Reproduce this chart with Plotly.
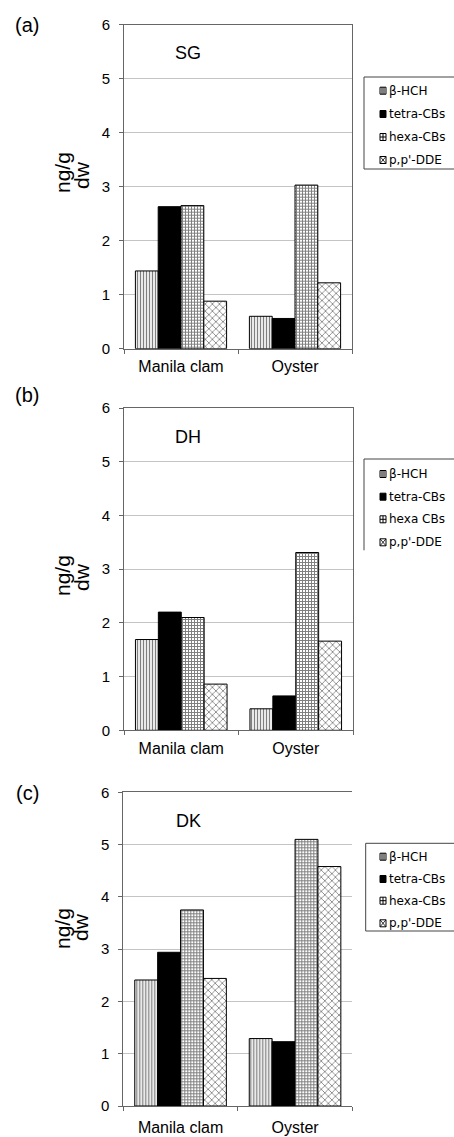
import plotly.graph_objects as go

W, H = 454, 1137

categories = ["Manila clam", "Oyster"]
compounds = ["β-HCH", "tetra-CBs", "hexa-CBs", "p,p'-DDE"]
legend_labels_b = ["β-HCH", "tetra-CBs", "hexa CBs", "p,p'-DDE"]

# ng/g dw values per site: [Manila clam, Oyster]
sg_beta_hch = [1.44, 0.60]
sg_tetra_cbs = [2.63, 0.56]
sg_hexa_cbs = [2.65, 3.03]
sg_ppdde = [0.88, 1.22]

dh_beta_hch = [1.69, 0.40]
dh_tetra_cbs = [2.20, 0.64]
dh_hexa_cbs = [2.10, 3.31]
dh_ppdde = [0.86, 1.66]

dk_beta_hch = [2.41, 1.29]
dk_tetra_cbs = [2.94, 1.23]
dk_hexa_cbs = [3.75, 5.10]
dk_ppdde = [2.44, 4.58]

panels = [
    dict(tag="(a)", site="SG", series=[sg_beta_hch, sg_tetra_cbs, sg_hexa_cbs, sg_ppdde], labels=compounds),
    dict(tag="(b)", site="DH", series=[dh_beta_hch, dh_tetra_cbs, dh_hexa_cbs, dh_ppdde], labels=legend_labels_b),
    dict(tag="(c)", site="DK", series=[dk_beta_hch, dk_tetra_cbs, dk_hexa_cbs, dk_ppdde], labels=compounds),
]

# layout geometry in pixels
plot_boxes = [  # left, right, top, bottom
    (124, 352, 24.7, 348.7),
    (124, 353, 408, 730.3),
    (123.3, 352.3, 792.3, 1106),
]
xlabel_standoff = [3, 3, 7]
tag_y = [25, 395, 793]
site_y = [53, 437, 821]
title_y = [(173, 175), (576, 577), (929, 927)]
legend_geo = [  # box left, top, bottom (None = open), entry ys
    (364, 77, 169, [90.7, 114, 137, 160]),
    (364, 459, None, [474, 496.7, 519.3, 542.3]),
    (365.7, 843.3, 931, [856.7, 879, 900.7, 923.3]),
]
right_border = [True, True, False]


def fx(x):
    return x / W


def fy(y):
    return 1 - y / H


styles = [
    dict(color="white", pattern=dict(shape="|", fgcolor="black", bgcolor="white", size=3, solidity=0.45)),
    dict(color="black"),
    dict(color="white", pattern=dict(shape="+", fgcolor="black", bgcolor="white", size=3, solidity=0.55)),
    dict(color="white", pattern=dict(shape="x", fgcolor="black", bgcolor="white", size=5, solidity=0.3)),
]

fig = go.Figure()
shapes = []
annotations = []


def note(text, x, y, size, family="Arial, Liberation Sans", angle=0, xanchor="center"):
    annotations.append(dict(text=text, x=fx(x), y=fy(y), xref="paper", yref="paper",
                            xanchor=xanchor, yanchor="middle", textangle=angle,
                            showarrow=False, font=dict(family=family, size=size, color="black")))


def pline(x0, y0, x1, y1, color="black", width=1):
    shapes.append(dict(type="line", xref="paper", yref="paper", x0=fx(x0), x1=fx(x1),
                       y0=fy(y0), y1=fy(y1), line=dict(color=color, width=width)))


for i, p in enumerate(panels):
    n = "" if i == 0 else str(i + 1)
    xa, ya = "x" + n, "y" + n
    for s, (vals, st) in enumerate(zip(p["series"], styles)):
        fig.add_trace(go.Bar(
            x=categories, y=vals, name=p["labels"][s], xaxis=xa, yaxis=ya,
            marker=dict(line=dict(color="black", width=1), **st),
            showlegend=False,
        ))
    l, r, t, b = plot_boxes[i]
    fig.layout["xaxis" + n] = dict(
        domain=[fx(l), fx(r)], anchor=ya, showgrid=False,
        showline=True, linecolor="#666", linewidth=1, mirror=True,
        ticks="outside", ticklen=4, tickcolor="#666", tickson="boundaries",
        tickfont=dict(family="Arial, Liberation Sans", size=16, color="black"),
        ticklabelstandoff=xlabel_standoff[i],
        fixedrange=True,
    )
    fig.layout["yaxis" + n] = dict(
        domain=[fy(b), fy(t)], anchor=xa, range=[0, 6], dtick=1,
        showgrid=True, gridcolor="#c4c4c4", gridwidth=1, zeroline=False,
        showline=True, linecolor="#666", linewidth=1, mirror=right_border[i],
        ticks="outside", ticklen=4, tickcolor="#666",
        tickfont=dict(family="Liberation Sans Narrow, Arial Narrow, Arial", size=15, color="black"),
        ticklabelstandoff=6,
        fixedrange=True,
    )
    note(p["tag"], 27, tag_y[i], 20)
    note(p["site"], 188, site_y[i], 18)
    ty1, ty2 = title_y[i]
    note("ng/g", 62, ty1, 21, angle=-90)
    note("dw", 81, ty2, 21, angle=-90)

    # legend box and entries
    bl, bt, bb, ys = legend_geo[i]
    if bb is not None:
        shapes.append(dict(type="rect", xref="paper", yref="paper", x0=fx(bl), x1=fx(W + 5),
                           y0=fy(bb), y1=fy(bt), line=dict(color="#444", width=1), fillcolor="rgba(0,0,0,0)"))
    else:
        pline(bl, bt, W + 5, bt, color="#444")
        pline(bl, bt, bl, ys[-1] + 8, color="#444")
    for s, yy in enumerate(ys):
        x0, x1, y0, y1 = 380, 386, yy - 3.5, yy + 3.5
        fill = "black" if s == 1 else "white"
        shapes.append(dict(type="rect", xref="paper", yref="paper", x0=fx(x0), x1=fx(x1),
                           y0=fy(y1), y1=fy(y0), line=dict(color="black", width=1), fillcolor=fill))
        if s == 0:
            for xx in (382, 384):
                pline(xx, y0, xx, y1)
        elif s == 2:
            pline(383, y0, 383, y1)
            pline(x0, yy, x1, yy)
        elif s == 3:
            pline(x0, y0, x1, y1, width=0.8)
            pline(x0, y1, x1, y0, width=0.8)
        note(p["labels"][s], 387, yy, 12, family="DejaVu Sans", xanchor="left")

fig.update_layout(
    width=W, height=H,
    margin=dict(l=0, r=0, t=0, b=0, autoexpand=False),
    paper_bgcolor="white", plot_bgcolor="white",
    barmode="group", bargap=0.2, bargroupgap=0,
    showlegend=False,
    shapes=shapes, annotations=annotations,
)

fig.write_html("out.html")
